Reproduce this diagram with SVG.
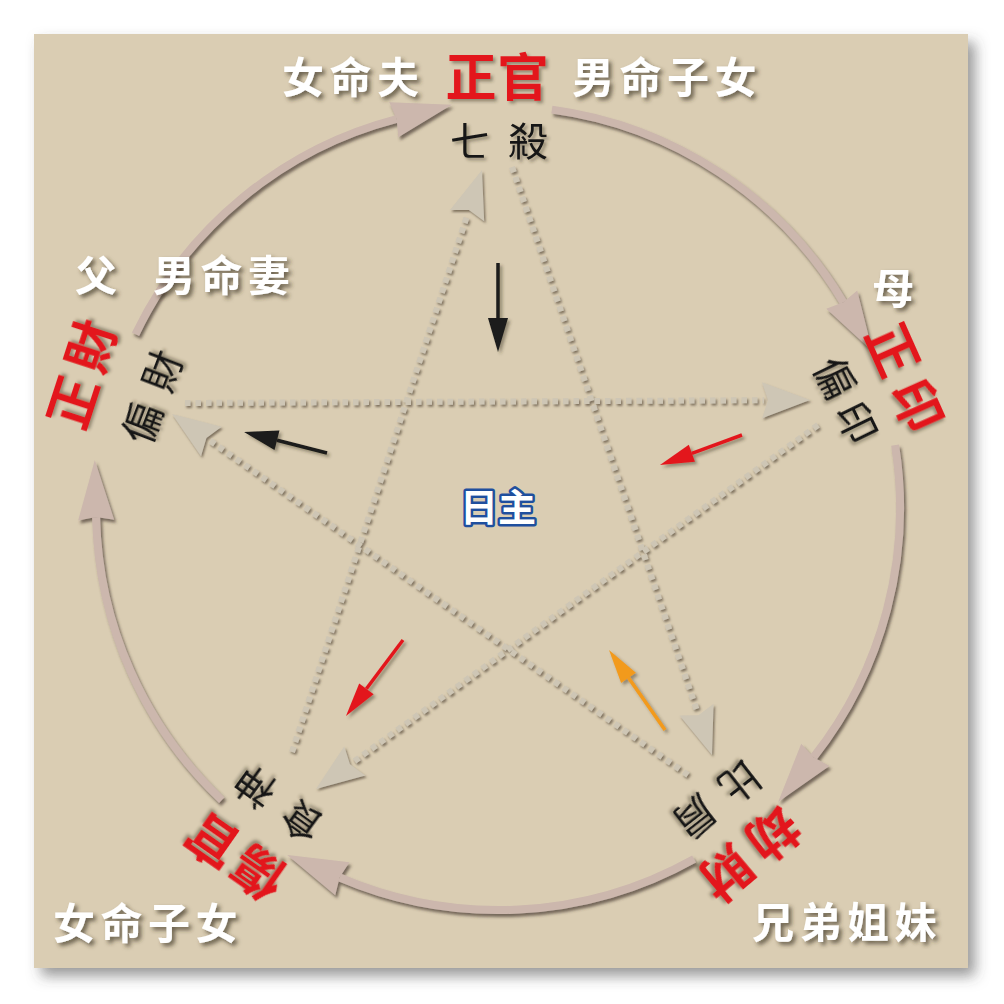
<svg xmlns="http://www.w3.org/2000/svg" width="1004" height="1004" viewBox="0 0 1004 1004">
<defs>
<style>
.w{font-family:"Noto Sans CJK SC","Noto Sans CJK TC",sans-serif;font-weight:bold;font-size:42px;fill:#ffffff;letter-spacing:5.5px}
.r{font-family:"Noto Sans CJK TC","Noto Sans CJK SC",sans-serif;font-weight:bold;font-size:51px;fill:#e3191f;text-anchor:middle}
.k{font-family:"Noto Sans CJK TC","Noto Sans CJK SC",sans-serif;font-size:40px;fill:#151515;text-anchor:middle}
.arc{fill:none;stroke:#ccb7ad;stroke-width:8}
.dot{fill:none;stroke:#cec6b5;stroke-width:6;stroke-dasharray:5.5 5}
.sol{fill:none;stroke-width:3.5}
</style>
<filter id="bgs" x="-10%" y="-10%" width="120%" height="120%"><feDropShadow dx="7" dy="8" stdDeviation="7" flood-color="#444" flood-opacity="0.55"/></filter>
<filter id="ts" x="-20%" y="-20%" width="140%" height="140%"><feDropShadow dx="3" dy="3" stdDeviation="2" flood-color="#3a3020" flood-opacity="0.7"/></filter>
<filter id="ks" x="-20%" y="-20%" width="140%" height="140%"><feDropShadow dx="2.5" dy="2.5" stdDeviation="1.8" flood-color="#3a3020" flood-opacity="0.45"/></filter>
<filter id="as" x="-10%" y="-10%" width="120%" height="120%"><feDropShadow dx="2" dy="3" stdDeviation="1.5" flood-color="#4a3e30" flood-opacity="0.7"/></filter>
<filter id="ds" x="-10%" y="-10%" width="120%" height="120%"><feDropShadow dx="1.5" dy="2" stdDeviation="1" flood-color="#5a4e3e" flood-opacity="0.7"/></filter>
<marker id="ah" markerUnits="userSpaceOnUse" orient="auto" refX="0" refY="0" markerWidth="60" markerHeight="40" overflow="visible"><path d="M57,0 L-3,-18 L0,0 L-3,18 Z" fill="#ccb7ad"/></marker>
<marker id="dh" markerUnits="userSpaceOnUse" orient="auto" refX="0" refY="0" markerWidth="50" markerHeight="40" overflow="visible"><path d="M46,0 L-2,-18 L4,0 L-2,18 Z" fill="#cec6b5"/></marker>
<marker id="hk" markerUnits="userSpaceOnUse" orient="auto" refX="0" refY="0" markerWidth="40" markerHeight="24" overflow="visible"><path d="M34,0 L0,-10 L0,10 Z" fill="#1a1a1a"/></marker>
<marker id="hr" markerUnits="userSpaceOnUse" orient="auto" refX="0" refY="0" markerWidth="40" markerHeight="24" overflow="visible"><path d="M34,0 L0,-9 L0,9 Z" fill="#e3191f"/></marker>
<marker id="ho" markerUnits="userSpaceOnUse" orient="auto" refX="0" refY="0" markerWidth="40" markerHeight="24" overflow="visible"><path d="M34,0 L0,-9 L0,9 Z" fill="#f29a1e"/></marker>
</defs>
<rect width="1004" height="1004" fill="#ffffff"/>
<rect x="34" y="34" width="934" height="934" fill="#dacdb3" filter="url(#bgs)"/>

<g id="connectors">
<g id="cycle" filter="url(#as)">
<path class="arc" d="M135.5,334.3 A402,402 0 0 1 396.7,119.0" marker-end="url(#ah)"/>
<path class="arc" d="M551.9,109.6 A402,402 0 0 1 843.3,302.2" marker-end="url(#ah)"/>
<path class="arc" d="M895.1,445.1 A402,402 0 0 1 813.5,757.2" marker-end="url(#ah)"/>
<path class="arc" d="M694.1,858.9 A402,402 0 0 1 339.6,877.5" marker-end="url(#ah)"/>
<path class="arc" d="M221.8,800.1 A402,402 0 0 1 96.1,517.1" marker-end="url(#ah)"/>
</g>
<g id="star" filter="url(#ds)">
<path class="dot" d="M292,752 L467.7,213.7" marker-end="url(#dh)"/>
<path class="dot" d="M512,167 L697.2,711.5" marker-end="url(#dh)"/>
<path class="dot" d="M688,775 L209.7,440.4" marker-end="url(#dh)"/>
<path class="dot" d="M818,425 L353.2,762" marker-end="url(#dh)"/>
<path class="dot" d="M185,403 L764,400.2" marker-end="url(#dh)"/>
</g>
<g id="flows" filter="url(#ks)">
<path class="sol" stroke="#1a1a1a" stroke-width="4" d="M498,263 L498,318" marker-end="url(#hk)"/>
<path class="sol" stroke="#1a1a1a" stroke-width="4" d="M327,453 L277,440.3" marker-end="url(#hk)"/>
<path class="sol" stroke="#e3191f" d="M742,435 L691.9,453.3" marker-end="url(#hr)"/>
<path class="sol" stroke="#e3191f" d="M403,640 L366.4,688.8" marker-end="url(#hr)"/>
<path class="sol" stroke="#f29a1e" d="M665,730 L628.5,677.8" marker-end="url(#ho)"/>
</g>
</g>

<g id="node-top">
<text class="w" x="282" y="93" filter="url(#ts)">女命夫</text>
<text class="r" x="497" y="96" filter="url(#ks)"><tspan x="471">正</tspan><tspan x="523">官</tspan></text>
<text class="w" x="572" y="93" filter="url(#ts)">男命子女</text>
<text class="k" y="156" filter="url(#ks)"><tspan x="470">七</tspan><tspan x="528">殺</tspan></text>
</g>

<g id="node-left">
<text class="w" x="75" y="291" filter="url(#ts)">父</text>
<text class="w" x="153" y="291" filter="url(#ts)">男命妻</text>
<text class="r" transform="translate(81,374) rotate(-72)" y="19.5" filter="url(#ks)"><tspan x="-29.5">正</tspan><tspan x="29.5">財</tspan></text>
<text class="k" transform="translate(152,397) rotate(-69)" y="15" filter="url(#ks)"><tspan x="-28">偏</tspan><tspan x="28">財</tspan></text>
</g>

<g id="node-right">
<text class="w" x="872" y="304" filter="url(#ts)">母</text>
<text class="r" transform="translate(906,377) rotate(66)" y="19.5" filter="url(#ks)"><tspan x="-30.5">正</tspan><tspan x="30.5">印</tspan></text>
<text class="k" transform="translate(846,400) rotate(64)" y="15" filter="url(#ks)"><tspan x="-25">偏</tspan><tspan x="25">印</tspan></text>
</g>

<g id="node-bottom-left">
<text class="r" transform="translate(235,858) rotate(215)" y="19.5" filter="url(#ks)"><tspan x="-28">傷</tspan><tspan x="28">官</tspan></text>
<text class="k" transform="translate(278.5,804.5) rotate(216)" y="15" filter="url(#ks)"><tspan x="-29">食</tspan><tspan x="29">神</tspan></text>
<text class="w" x="53" y="939" filter="url(#ts)">女命子女</text>
</g>

<g id="node-bottom-right">
<text class="r" transform="translate(750.5,854.5) rotate(140)" y="19.5" filter="url(#ks)"><tspan x="-30.5">劫</tspan><tspan x="30.5">財</tspan></text>
<text class="k" transform="translate(717.5,799.5) rotate(142)" y="15" filter="url(#ks)"><tspan x="-28.5">比</tspan><tspan x="28.5">肩</tspan></text>
<text class="w" x="752" y="938" filter="url(#ts)">兄弟姐妹</text>
</g>

<g id="node-center">
<text x="498" y="521" text-anchor="middle" font-family="Noto Sans CJK SC, sans-serif" font-weight="bold" font-size="38" fill="#ffffff" stroke="#1f4f9e" stroke-width="5" stroke-linejoin="round" paint-order="stroke">日主</text>
</g>
</svg>
